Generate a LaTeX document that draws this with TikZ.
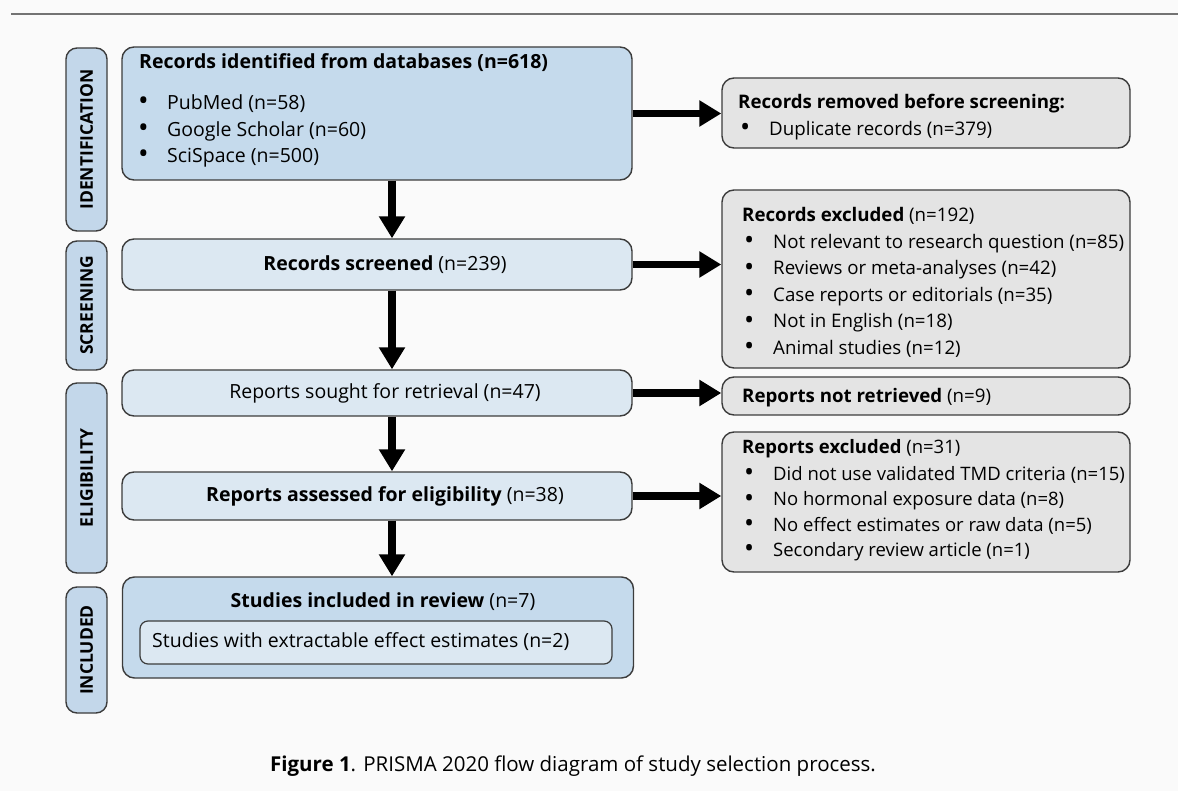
\documentclass[tikz,border=0pt]{standalone}
\usepackage{fontspec}
\usepackage{graphicx}
\setmainfont{Open Sans}
\usetikzlibrary{positioning}
\usetikzlibrary{arrows.meta}
\definecolor{bgpage}{HTML}{FAFAFA}
\definecolor{boxblue}{HTML}{C5DAEC}
\definecolor{boxlight}{HTML}{DCE8F2}
\definecolor{stageblue}{HTML}{C3D7EA}
\definecolor{boxgray}{HTML}{E4E4E4}
\definecolor{edgegray}{HTML}{3C3C3C}
\tikzset{
    stage/.style = {rectangle, rounded corners=11pt, draw=edgegray, line width=1.4pt, fill=stageblue, minimum height=41pt, inner sep=0pt, rotate=90, font=\fontsize{17.5}{20}\selectfont\bfseries},
    mainbox/.style = {rectangle, rounded corners=12pt, draw=edgegray, line width=1.4pt, fill=boxlight, minimum width=510pt, inner sep=0pt, font=\fontsize{19.5}{22}\selectfont},
    mainboxd/.style = {mainbox, fill=boxblue},
    innerbox/.style = {rectangle, rounded corners=8pt, draw=edgegray, line width=1.2pt, fill=boxlight, minimum width=472pt, minimum height=43pt, inner sep=0pt},
    sidebox/.style = {rectangle, rounded corners=12pt, draw=edgegray, line width=1.4pt, fill=boxgray, minimum width=408pt, inner sep=0pt},
    listtext/.style = {anchor=north west, inner sep=0pt, align=left},
    linetext/.style = {anchor=west, inner sep=0pt},
    edgen/.style = {-{Triangle[length=22pt,width=25pt]}, line width=7.5pt, black},
    topline/.style = {line width=1.5pt, draw=black!55},
}
\newcommand{\bul}[1]{\makebox[29pt][l]{\raisebox{-1.2pt}{\scalebox{1.45}{\textbullet}}}#1}
\newcommand{\pad}{\hspace*{16pt}}

\begin{document}
\begin{tikzpicture}[x=1pt,y=-1pt]
\useasboundingbox (0,0) rectangle (1178,791);
\fill[bgpage] (0,0) rectangle (1178,791);
\draw[topline] (11,14) -- (1178,14);
% stages
\node[stage, minimum width=183pt] at (86.5,139.5) (sid) {IDENTIFICATION};
\node[stage, minimum width=129pt] at (86.5,305.5) (sscr) {SCREENING};
\node[stage, minimum width=190pt] at (86.5,478) (selig) {ELIGIBILITY};
\node[stage, minimum width=126pt] at (86.5,650) (sincl) {INCLUDED};
% main column
\node[mainboxd, minimum height=133pt] at (377,113.5) (ident) {};
\node[listtext, font=\fontsize{19.5}{22}\selectfont\bfseries] at (139,53) (identt) {Records identified from databases (n=618)};
\node[listtext, font=\fontsize{19.5}{26.5}\selectfont] at (138,94.5) (identl) {\bul{PubMed (n=58)}\\ \bul{Google Scholar (n=60)}\\ \bul{SciSpace (n=500)}};
\node[mainbox, minimum height=51pt] at (377,264.5) (screened) {\pad\textbf{Records screened} (n=239)};
\node[mainbox, minimum height=46pt] at (377,393) (sought) {\pad Reports sought for retrieval (n=47)};
\node[mainbox, minimum height=48pt] at (377,496) (assessed) {\pad\textbf{Reports assessed for eligibility} (n=38)};
\node[mainboxd, minimum width=511pt, minimum height=101pt] at (378,627.5) (included) {};
\node[inner sep=0pt, font=\fontsize{19.5}{22}\selectfont] at (383,602) (inclt) {\textbf{Studies included in review} (n=7)};
\node[innerbox] at (376,642.5) (extract) {};
\node[linetext, font=\fontsize{19.5}{22}\selectfont] at (152,642) (extractt) {Studies with extractable effect estimates (n=2)};
% side column
\node[sidebox, minimum height=70pt] at (926,113) (removed) {};
\node[listtext, font=\fontsize{18.7}{27}\selectfont] at (738,93.5) (removedt) {\textbf{Records removed before screening:}\\ \hspace*{2pt}\bul{Duplicate records (n=379)}};
\node[sidebox, minimum height=178pt] at (926,279) (excluded) {};
\node[listtext, font=\fontsize{18.7}{26.5}\selectfont] at (742,207.5) (excludedt) {\textbf{Records excluded} (n=192)\\ \hspace*{2pt}\bul{Not relevant to research question (n=85)}\\ \hspace*{2pt}\bul{Reviews or meta-analyses (n=42)}\\ \hspace*{2pt}\bul{Case reports or editorials (n=35)}\\ \hspace*{2pt}\bul{Not in English (n=18)}\\ \hspace*{2pt}\bul{Animal studies (n=12)}};
\node[sidebox, minimum height=38pt] at (926,396) (notretr) {};
\node[linetext, font=\fontsize{18.7}{22}\selectfont] at (742,398) (notretrt) {\textbf{Reports not retrieved} (n=9)};
\node[sidebox, minimum height=140pt] at (926,502) (repexcl) {};
\node[listtext, font=\fontsize{18.5}{25.2}\selectfont] at (742,439.5) (repexclt) {\textbf{Reports excluded} (n=31)\\[1.8pt] \hspace*{2pt}\bul{Did not use validated TMD criteria (n=15)}\\ \hspace*{2pt}\bul{No hormonal exposure data (n=8)}\\ \hspace*{2pt}\bul{No effect estimates or raw data (n=5)}\\ \hspace*{2pt}\bul{Secondary review article (n=1)}};
\node[inner sep=0pt, font=\fontsize{20.5}{24}\selectfont] at (573,766) (caption) {\textbf{Figure 1}. PRISMA 2020 flow diagram of study selection process.};
%
\coordinate (ax) at (392,0);
\draw[edgen] (ident.south -| ax) -- (screened.north -| ax);
\draw[edgen] (screened.south -| ax) -- (sought.north -| ax);
\draw[edgen] (sought.south -| ax) -- (assessed.north -| ax);
\draw[edgen] (assessed.south -| ax) -- (included.north -| ax);
\draw[edgen] (ident.east) -- (ident.east -| removed.west);
\draw[edgen] (screened.east) -- (screened.east -| excluded.west);
\draw[edgen] (sought.east) -- (sought.east -| notretr.west);
\draw[edgen] (assessed.east) -- (assessed.east -| repexcl.west);
\end{tikzpicture}
\end{document}
